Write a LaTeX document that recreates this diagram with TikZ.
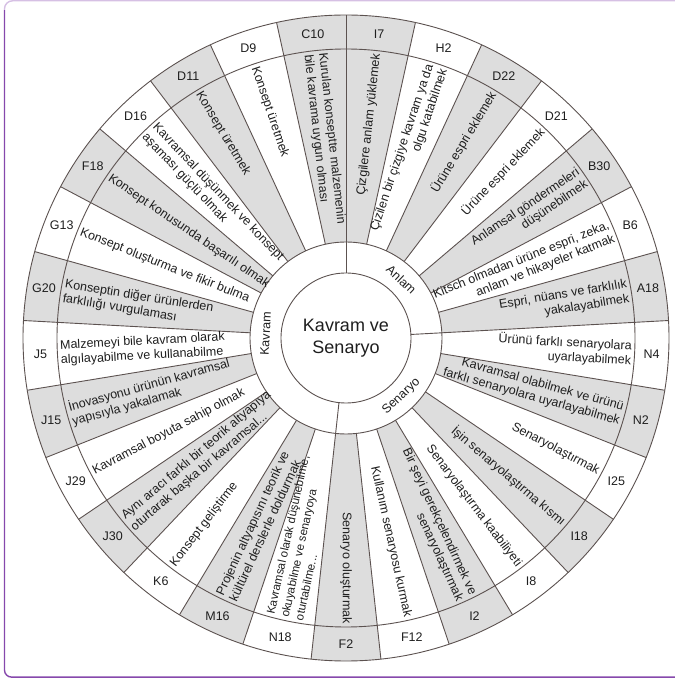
\documentclass[tikz,border=0pt]{standalone}
\usepackage{fontspec}
\setmainfont{Liberation Sans}
\definecolor{cellgray}{RGB}{221,221,221}
\definecolor{linec}{RGB}{92,82,80}
\definecolor{txtc}{RGB}{30,30,30}
\definecolor{framelav}{RGB}{214,192,228}
\definecolor{framepur}{RGB}{134,72,172}
\tikzset{
  txtR/.style={anchor=east, align=right, inner sep=0pt, text=txtc},
  txtL/.style={anchor=west, align=left, inner sep=0pt, text=txtc},
  codestyle/.style={inner sep=0pt, text=txtc, font=\fontsize{12.5}{14}\selectfont},
  catstyle/.style={inner sep=0pt, text=txtc, font=\fontsize{12.5}{14}\selectfont},
  wline/.style={draw=linec, line width=0.9pt},
}
\begin{document}
\begin{tikzpicture}[x=1pt,y=1pt]
\useasboundingbox (0,0) rectangle (675,678);
% frame
\draw[framepur, line width=1.4pt, rounded corners=7] (4.5,668) -- (4.5,0.9) -- (676,0.9);
\draw[framelav, line width=1.4pt, rounded corners=8] (4.5,668) -- (4.5,677.2) -- (676,677.2);
\begin{scope}[shift={(346,340)}]
\pgfmathsetmacro\dd{360/29}
% gray cells
\foreach \i in {0,2,...,28}{
  \pgfmathsetmacro\aa{90-\i*\dd}
  \pgfmathsetmacro\ab{90-(\i+1)*\dd}
  \fill[cellgray] (\aa:96) -- (\aa:323) arc[start angle=\aa, end angle=\ab, radius=323] -- (\ab:96) arc[start angle=\ab, end angle=\aa, radius=96] -- cycle;
}
% circles
\draw[wline] (0,0) circle[radius=65];
\draw[wline] (0,0) circle[radius=96];
\draw[wline] (0,0) circle[radius=289];
\draw[wline] (0,0) circle[radius=323];
% radial lines
\foreach \k in {0,...,28}{
  \pgfmathsetmacro\aa{90-\k*\dd}
  \draw[wline] (\aa:96) -- (\aa:323);
}
\foreach \k in {0,7,15}{
  \pgfmathsetmacro\aa{90-\k*\dd}
  \draw[wline] (\aa:65) -- (\aa:96);
}
% centre
\node[align=center, inner sep=0pt, text=txtc, font=\fontsize{18}{22}\selectfont] (center) at (0,0) {Kavram ve\\Senaryo};
% categories
\node[catstyle, rotate=-43.45] (catA) at (46.55:80.5) {Anlam};
\node[catstyle, rotate=43.45] (catS) at (-46.55:80.5) {Senaryo};
\node[catstyle, rotate=86.9] (catK) at (176.9:80.5) {Kavram};
% sectors
\foreach \i/\code/\txt in {
 0/I7/{Çizgilere anlam yüklemek},
 1/H2/{Çizilen bir çizgiye kavram ya da\\olgu katabilmek},
 2/D22/{Ürüne espri eklemek},
 3/D21/{Ürüne espri eklemek},
 4/B30/{Anlamsal göndermeleri\\düşünebilmek},
 5/B6/{Kitsch olmadan ürüne espri, zeka,\\anlam ve hikayeler katmak},
 6/A18/{Espri, nüans ve farklılık\\yakalayabilmek},
 7/N4/{Ürünü farklı senaryolara\\uyarlayabilmek},
 8/N2/{Kavramsal olabilmek ve ürünü\\farklı senaryolara uyarlayabilmek},
 9/I25/{Senaryolaştırmak},
 10/I18/{İşin senaryolaştırma kısmı},
 11/I8/{Senaryolaştırma kaabiliyeti},
 12/I2/{Bir şeyi gerekçelendirmek ve\\senaryolaştırmak},
 13/F12/{Kullanım senaryosu kurmak},
 14/F2/{Senaryo oluşturmak},
 15/N18/{Kavramsal olarak düşünebilme,\\okuyabilme ve senaryoya\\oturtabilme...},
 16/M16/{Projenin altyapısını teorik ve\\kültürel derslerle doldurmak},
 17/K6/{Konsept geliştirme},
 18/J30/{Aynı aracı farklı bir teorik altyapıya\\oturtarak başka bir kavramsal...},
 19/J29/{Kavramsal boyuta sahip olmak},
 20/J15/{İnovasyonu ürünün kavramsal\\yapısıyla yakalamak},
 21/J5/{Malzemeyi bile kavram olarak\\algılayabilme ve kullanabilme},
 22/G20/{Konseptin diğer ürünlerden\\farklılığı vurgulaması},
 23/G13/{Konsept oluşturma ve fikir bulma},
 24/F18/{Konsept konusunda başarılı olmak},
 25/D16/{Kavramsal düşünmek ve konsept\\aşaması güçlü olmak},
 26/D11/{Konsept üretmek},
 27/D9/{Konsept üretmek},
 28/C10/{Kurulan konseptte malzemenin\\bile kavrama uygun olması}}{
  \pgfmathsetmacro\ang{90-(\i+0.5)*\dd}
  \ifnum\i=15 \def\fsz{11.6}\else\def\fsz{12.5}\fi
  \ifnum\i<15
    \node[txtR, rotate=\ang, font=\fontsize{\fsz}{14.6}\selectfont] (t\i) at (\ang:286) {\txt};
  \else
    \node[txtL, rotate=\ang+180, font=\fontsize{\fsz}{14.6}\selectfont] (t\i) at (\ang:286) {\txt};
  \fi
  \node[codestyle] (c\i) at (\ang:306) {\code};
}
\end{scope}
\end{tikzpicture}
\end{document}
